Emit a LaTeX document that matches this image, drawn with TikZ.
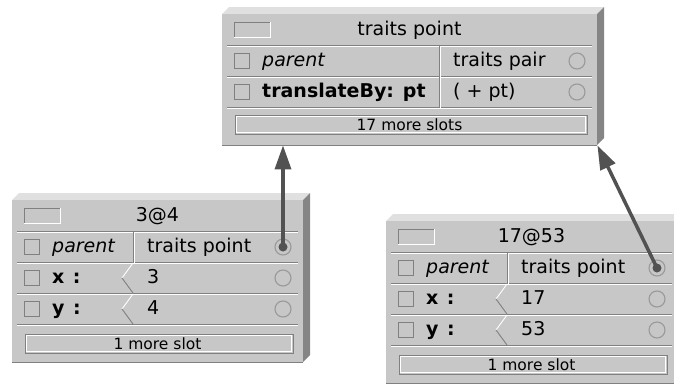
\documentclass[tikz,border=0pt]{standalone}
\usepackage{fontspec}
\setmainfont{DejaVu Sans}
\usetikzlibrary{arrows.meta}

\definecolor{facegray}{gray}{0.78}
\definecolor{bevellight}{gray}{0.88}
\definecolor{beveldark}{gray}{0.52}
\definecolor{etchdark}{gray}{0.5}
\definecolor{ringgray}{gray}{0.6}
\definecolor{ptrgray}{gray}{0.32}

\newcommand{\slotfont}{\fontsize{19}{22}\selectfont}

\tikzset{
  objface/.style={fill=facegray, inner sep=0pt, anchor=north west},
  etch/.style={draw=etchdark, line width=0.9pt},
  shine/.style={draw=white, line width=0.9pt},
  slottext/.style={inner sep=0pt, anchor=west, text height=14pt, text depth=4pt, font=\slotfont},
  keytext/.style={slottext, font=\slotfont\itshape},
  methtext/.style={slottext, font=\slotfont\bfseries},
  objtitle/.style={inner sep=0pt, text height=14pt, text depth=4pt, font=\slotfont},
  moretext/.style={inner sep=0pt, font=\fontsize{15.5}{17}\selectfont},
  checkbox/.style={draw=etchdark, line width=0.9pt, minimum size=15pt, inner sep=0pt},
  ring/.style={circle, draw=ringgray, line width=1.1pt, minimum size=16pt, inner sep=0pt},
  parentptr/.style={draw=ptrgray, line width=3.5pt, -{Triangle[length=24pt,width=16pt]}},
}

% bevelled outliner frame: name, width, height
\newcommand{\objframe}[3]{%
  \fill[bevellight] (0,0) -- (7,-7) -- (#2+7,-7) -- (#2,0) -- cycle;
  \fill[beveldark] (#2,0) -- (#2+7,-7) -- (#2+7,#3-7) -- (#2,#3) -- cycle;
  \node[objface, minimum width=#2pt, minimum height=#3pt] (#1) at (0,0) {};
  \draw[etch] (0,#3) -- (#2,#3);
}

% title bar: name, width, text
\newcommand{\objhead}[3]{%
  \draw[shine] (12,23) -| (48,8);
  \draw[etch] (12,23) |- (48,8);
  \node[objtitle] (#1) at (#2/2,16) {#3};
  \draw[etch] (5,31.5) -- (#2-5,31.5);
  \draw[shine] (5,32.7) -- (#2-5,32.7);
}

% one slot: name, mid y, key style, key, value, divider x, width
\newcommand{\slotrow}[7]{%
  \node[checkbox] (#1b) at (19.5,#2) {};
  \node[#3] (#1k) at (40,#2) {#4};
  \node[slottext] (#1v) at (#6+14,#2) {#5};
  \node[ring] (#1) at (#7-20,#2) {};
  \draw[etch] (5,#2+15.5) -- (#7-5,#2+15.5);
  \draw[shine] (5,#2+16.7) -- (#7-5,#2+16.7);
}
% straight divider for parent and method slots
\newcommand{\plainslot}[7]{%
  \slotrow{#1}{#2}{#3}{#4}{#5}{#6}{#7}
  \draw[etch] (#6,#2-15.5) -- (#6,#2+15.5);
  \draw[shine] (#6+1.2,#2-14.5) -- (#6+1.2,#2+15.5);
}
% chevron divider for data slots
\newcommand{\dataslot}[6]{%
  \slotrow{#1}{#2}{methtext}{#3\hspace{0.45em}:}{#4}{#5}{#6}
  \draw[shine] (#5,#2-15) -- (#5-11,#2);
  \draw[etch] (#5-11,#2) -- (#5,#2+15);
}

% "more slots" button: name, top y, width, text
\newcommand{\morebtn}[4]{%
  \draw[etch] (13,#2) rectangle (#3-10,#2+19);
  \draw[shine] (14.5,#2+1.5) rectangle (#3-11.5,#2+17.5);
  \node[moretext] (#1) at (#3/2,#2+9.5) {#4};
}

\begin{document}
\begin{tikzpicture}[x=1pt, y=-1pt]
\useasboundingbox (0,0) rectangle (674,383);
\clip (0,0) rectangle (674,383);

% traits point
\begin{scope}[shift={(222,14)}]
  \objframe{traits}{375}{131}
  \objhead{traitsT}{375}{traits point}
  \plainslot{traitsP}{47}{keytext}{parent}{traits pair}{217}{375}
  \plainslot{traitsM}{78}{methtext}{translateBy: pt}{( + pt)}{217}{375}
  \morebtn{traitsS}{101}{375}{17 more slots}
\end{scope}

% 3@4
\begin{scope}[shift={(12,200)}]
  \objframe{ptA}{291}{162}
  \objhead{ptAT}{291}{3@4}
  \plainslot{ptAP}{47}{keytext}{parent}{traits point}{121}{291}
  \dataslot{ptAX}{78}{x}{3}{121}{291}
  \dataslot{ptAY}{109}{y}{4}{121}{291}
  \morebtn{ptAS}{134}{291}{1 more slot}
\end{scope}

% 17@53, its right edge runs off the page
\begin{scope}[shift={(386,221)}]
  \objframe{ptB}{291}{162}
  \objhead{ptBT}{291}{17@53}
  \plainslot{ptBP}{47}{keytext}{parent}{traits point}{121}{291}
  \dataslot{ptBX}{78}{x}{17}{121}{291}
  \dataslot{ptBY}{109}{y}{53}{121}{291}
  \morebtn{ptBS}{134}{291}{1 more slot}
\end{scope}

% parent pointers
\foreach \p in {ptAP, ptBP}
  \fill[ptrgray] (\p) circle (4.5);
\draw[parentptr] (ptAP.center) -- (ptAP |- traits.south);
\draw[parentptr] (ptBP.center) -- (traits.south east);
\end{tikzpicture}
\end{document}
